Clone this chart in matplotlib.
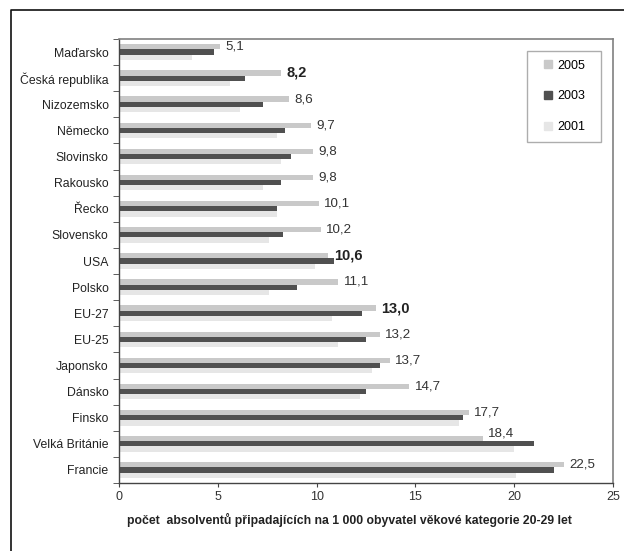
import matplotlib
matplotlib.use("Agg")
import matplotlib.pyplot as plt
from matplotlib.lines import Line2D
import numpy as np

plt.rcParams['font.family'] = ['Liberation Sans', 'DejaVu Sans']

countries = ['Maďarsko', 'Česká republika', 'Nizozemsko', 'Německo', 'Slovinsko',
             'Rakousko', 'Řecko', 'Slovensko', 'USA', 'Polsko', 'EU-27', 'EU-25',
             'Japonsko', 'Dánsko', 'Finsko', 'Velká Británie', 'Francie']
y2005 = [5.1, 8.2, 8.6, 9.7, 9.8, 9.8, 10.1, 10.2, 10.6, 11.1, 13.0, 13.2, 13.7, 14.7, 17.7, 18.4, 22.5]
y2003 = [4.8, 6.4, 7.3, 8.4, 8.7, 8.2, 8.0, 8.3, 10.9, 9.0, 12.3, 12.5, 13.2, 12.5, 17.4, 21.0, 22.0]
y2001 = [3.7, 5.6, 6.1, 8.0, 8.2, 7.3, 8.0, 7.6, 9.9, 7.6, 10.8, 11.1, 12.8, 12.2, 17.2, 20.0, 20.1]
years = ['2005', '2003', '2001']
bold_labels = ['Česká republika', 'USA', 'EU-27']

c2005 = '#c9c9c9'
c2003 = '#505050'
c2001 = '#e6e6e6'
colors = [c2005, c2003, c2001]

fig = plt.figure(figsize=(6.24, 5.51), dpi=100)
ax = fig.add_axes([119/624, 68/551, 494/624, 444/551])

pos = np.arange(len(countries))
h = 0.2
ax.barh(pos - h, y2005, height=h, color=c2005)
ax.barh(pos, y2003, height=h, color=c2003)
ax.barh(pos + h, y2001, height=h, color=c2001)

# popisky hodnot 2005
for i, (name, v) in enumerate(zip(countries, y2005)):
    txt = f'{v:.1f}'.replace('.', ',')
    dy = 4 if name == 'Velká Británie' else 0
    if name in bold_labels:
        ax.annotate(txt, (v, i - h), xytext=(4, dy), textcoords='offset points',
                    va='center', ha='left', fontsize=10.5, fontweight='bold', color='#222222')
    else:
        ax.annotate(txt, (v, i - h), xytext=(4, dy), textcoords='offset points',
                    va='center', ha='left', fontsize=9.6, color='#333333')

ax.set_xlim(0, 25)
ax.set_ylim(len(countries) - 0.5, -0.5)
ax.set_xticks([0, 5, 10, 15, 20, 25])
ax.set_yticks(pos)
ax.set_yticklabels(countries)
ax.set_yticks(np.arange(len(countries) + 1) - 0.5, minor=True)
ax.tick_params(axis='y', which='major', length=0, labelsize=8.8, pad=7.5, labelcolor='#222222')
ax.tick_params(axis='y', which='minor', length=4, direction='out', color='#444444')
ax.tick_params(axis='x', length=3, direction='out', labelsize=9, pad=2.5,
               color='#444444', labelcolor='#333333')

for side in ['top', 'right']:
    ax.spines[side].set_color('#808080')
    ax.spines[side].set_linewidth(1.2)
for side in ['left', 'bottom']:
    ax.spines[side].set_color('#444444')
    ax.spines[side].set_linewidth(1.0)

ax.set_xlabel('počet  absolventů připadajících na 1 000 obyvatel věkové kategorie 20-29 let',
              fontsize=8.8, fontweight='bold', labelpad=5, color='#222222')
ax.xaxis.set_label_coords(0.4665, -0.068)

handles = [Line2D([], [], linestyle='none', marker='s', markersize=5.8,
                  markerfacecolor=c, markeredgecolor=c) for c in colors]
leg = ax.legend(handles, years, loc='upper left', bbox_to_anchor=(0.826, 0.973, 0.150, 0.0),
                mode='expand', fontsize=9, handlelength=2.0, handletextpad=-0.3,
                labelspacing=1.5, borderpad=0.7, fancybox=False, frameon=True,
                borderaxespad=0)
leg.get_frame().set_edgecolor('#999999')
leg.get_frame().set_linewidth(1.0)

# vnejsi ramecek
fig.add_artist(Line2D([11/624, 11/624, 1.0], [0.0, 1 - 10/551, 1 - 10/551],
                      transform=fig.transFigure, color='#111111', linewidth=1.2))

fig.savefig('out.png', dpi=100)
